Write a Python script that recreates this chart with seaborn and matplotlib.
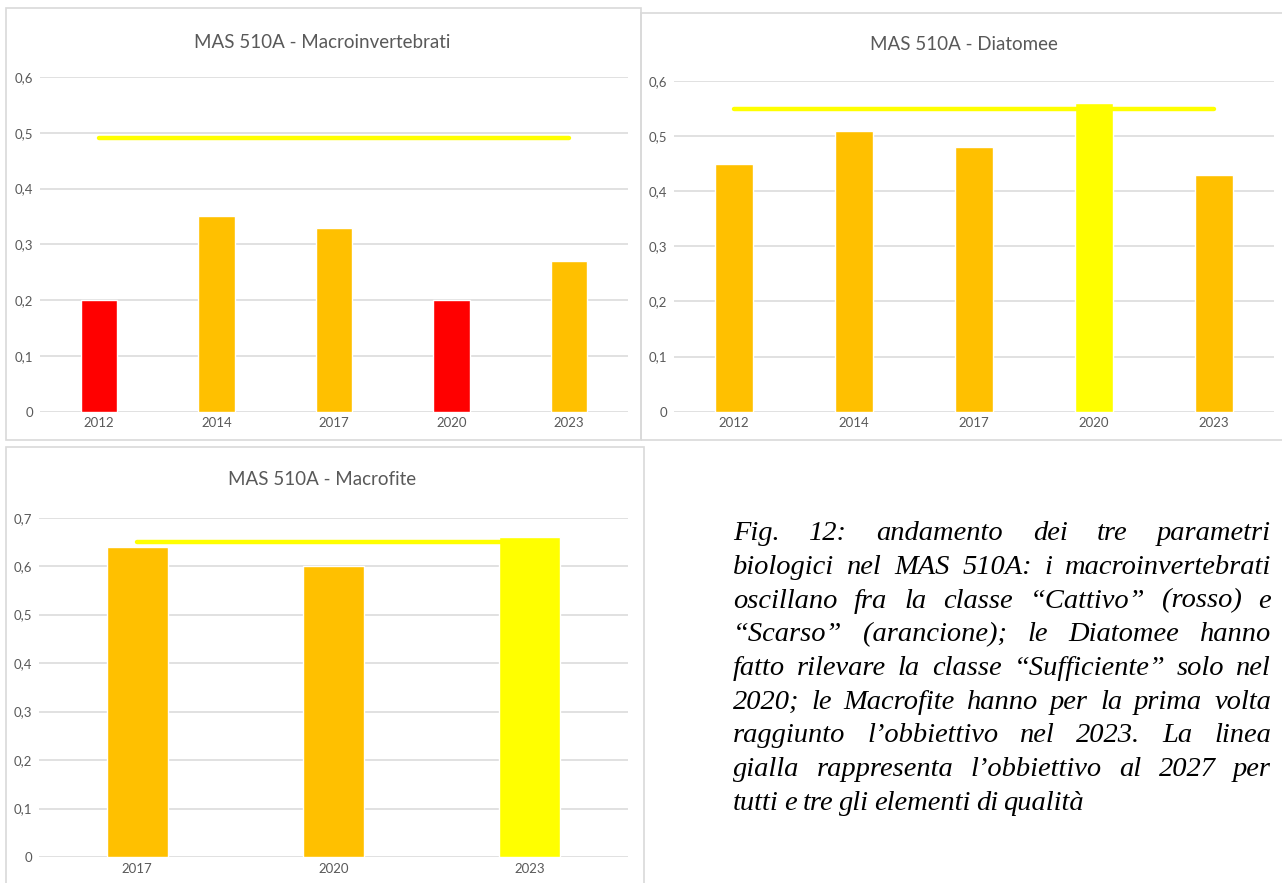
import numpy as np
import matplotlib
matplotlib.use("Agg")
import matplotlib.pyplot as plt
import seaborn as sns
from matplotlib.patches import Rectangle

# ---- data ----
years_macroinv = ["2012", "2014", "2017", "2020", "2023"]
values_macroinv = [0.20, 0.35, 0.33, 0.20, 0.27]
colors_macroinv = ["#FF0000", "#FFC000", "#FFC000", "#FF0000", "#FFC000"]
target_macroinv = [0.49, 0.49, 0.49, 0.49, 0.49]

years_diatomee = ["2012", "2014", "2017", "2020", "2023"]
values_diatomee = [0.45, 0.51, 0.48, 0.56, 0.43]
colors_diatomee = ["#FFC000", "#FFC000", "#FFC000", "#FFFF00", "#FFC000"]
target_diatomee = [0.55, 0.55, 0.55, 0.55, 0.55]

years_macrofite = ["2017", "2020", "2023"]
values_macrofite = [0.64, 0.60, 0.66]
colors_macrofite = ["#FFC000", "#FFC000", "#FFFF00"]
target_macrofite = [0.65, 0.65, 0.65]

yticks_06 = [0, 0.1, 0.2, 0.3, 0.4, 0.5, 0.6]
ylabels_06 = ["0", "0,1", "0,2", "0,3", "0,4", "0,5", "0,6"]
yticks_07 = [0, 0.1, 0.2, 0.3, 0.4, 0.5, 0.6, 0.7]
ylabels_07 = ["0", "0,1", "0,2", "0,3", "0,4", "0,5", "0,6", "0,7"]

caption_lines = [
    "Fig. 12: andamento dei tre parametri",
    "biologici nel MAS 510A: i macroinvertebrati",
    "oscillano fra la classe \u201cCattivo\u201d (rosso) e",
    "\u201cScarso\u201d (arancione); le Diatomee hanno",
    "fatto rilevare la classe \u201cSufficiente\u201d solo nel",
    "2020; le Macrofite hanno per la prima volta",
    "raggiunto l\u2019obbiettivo nel 2023. La linea",
    "gialla rappresenta l\u2019obbiettivo al 2027 per",
    "tutti e tre gli elementi di qualit\u00e0",
]

W, H = 1282, 883
TEXT_GREY = "#595959"
GRID_GREY = "#D9D9D9"

sns.set_theme(style="white")
plt.rcParams["font.family"] = ["Lato", "DejaVu Sans"]

fig = plt.figure(figsize=(W / 100, H / 100), dpi=100)
fig.patch.set_facecolor("white")


def px_box(x0, y0, x1, y1):
    # pixel box (top-left origin) -> figure fraction rect
    return [x0 / W, 1 - y1 / H, (x1 - x0) / W, (y1 - y0) / H]


def frame(x0, y0, x1, y1):
    fig.patches.append(Rectangle((x0 / W, 1 - y1 / H), (x1 - x0) / W, (y1 - y0) / H,
                                 transform=fig.transFigure, fill=False,
                                 edgecolor=GRID_GREY, linewidth=1.2))


def panel(rect, title, title_xy, years, values, colors, target, yticks, ylabels):
    ax = fig.add_axes(px_box(*rect))
    palette = dict(zip(years, colors))
    sns.barplot(x=years, y=values, hue=years, palette=palette, order=years,
                hue_order=years, legend=False, width=0.31, saturation=1,
                ax=ax, zorder=2)
    sns.lineplot(x=np.arange(len(years)), y=target, color="#FFFF00",
                 linewidth=3.2, ax=ax, zorder=3, solid_capstyle="round")
    ax.set_xlim(-0.5, len(years) - 0.5)
    ax.set_ylim(0, yticks[-1])
    ax.set_yticks(yticks)
    ax.set_yticklabels(ylabels)
    ax.set_axisbelow(True)
    ax.yaxis.grid(True, color=GRID_GREY, linewidth=1.1)
    ax.xaxis.grid(False)
    for s in ax.spines.values():
        s.set_visible(False)
    ax.tick_params(axis="both", length=0, labelsize=9.5, labelcolor=TEXT_GREY)
    ax.tick_params(axis="y", pad=5)
    ax.tick_params(axis="x", pad=4)
    ax.set_xlabel("")
    ax.set_ylabel("")
    ax.set_facecolor("none")
    fig.text(title_xy[0] / W, 1 - title_xy[1] / H, title, ha="center", va="center",
             fontsize=13.5, color=TEXT_GREY)
    return ax


# frames around the three charts
frame(6, 8, 641, 440)
frame(641, 13, 1290, 440)
frame(6, 447, 644, 892)

panel((40, 77, 628, 411.7), "MAS 510A - Macroinvertebrati", (322, 42),
      years_macroinv, values_macroinv, colors_macroinv, target_macroinv,
      yticks_06, ylabels_06)
panel((674, 81, 1274, 411.7), "MAS 510A - Diatomee", (964, 45),
      years_diatomee, values_diatomee, colors_diatomee, target_diatomee,
      yticks_06, ylabels_06)
panel((39, 517.7, 628, 857), "MAS 510A - Macrofite", (322, 480),
      years_macrofite, values_macrofite, colors_macrofite, target_macrofite,
      yticks_07, ylabels_07)

# justified italic caption
renderer = fig.canvas.get_renderer()
cap_left, cap_right = 733, 1271
base0, step = 540, 33.75
cap_font = dict(family=["Liberation Serif", "DejaVu Serif"], style="italic",
                fontsize=20.5, color="black")
for i, line in enumerate(caption_lines):
    words = line.split(" ")
    y = 1 - (base0 + i * step) / H
    texts = [fig.text(0, y, w, ha="left", va="baseline", **cap_font) for w in words]
    widths = [t.get_window_extent(renderer).width for t in texts]
    if i < len(caption_lines) - 1:
        gap = (cap_right - cap_left - sum(widths)) / (len(words) - 1)
    else:
        gap = 5.5
    x = cap_left
    for t, w in zip(texts, widths):
        t.set_x(x / W)
        x += w + gap

fig.savefig("out.png", dpi=100, facecolor="white")
